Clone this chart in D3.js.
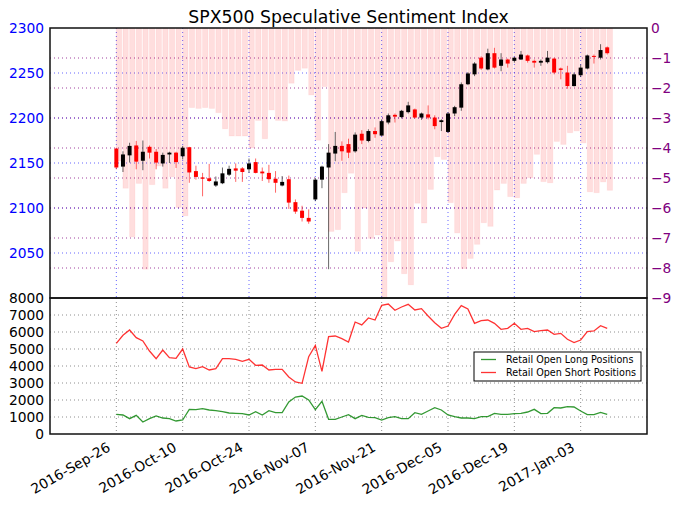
<!DOCTYPE html>
<html>
<head>
<meta charset="utf-8">
<script src="https://cdn.jsdelivr.net/npm/d3@7"></script>
<style>
  body { margin: 0; background: #fff; }
  text { font-family: "DejaVu Sans", sans-serif; }
</style>
</head>
<body>
<div id="chart"></div>
<script>
// x axis: one slot per bar, a labelled tick every 10 bars
const tickIndex = [0, 10, 20, 30, 40, 50, 60, 70];
const tickLabels = ["2016-Sep-26", "2016-Oct-10", "2016-Oct-24", "2016-Nov-07",
  "2016-Nov-21", "2016-Dec-05", "2016-Dec-19", "2017-Jan-03"];

const priceTicks = [2050, 2100, 2150, 2200, 2250, 2300];
const sentTicks = [0, -1, -2, -3, -4, -5, -6, -7, -8, -9];
const posTicks = [0, 1000, 2000, 3000, 4000, 5000, 6000, 7000, 8000];

// SPX500 daily candles
const opens = [2166, 2146, 2158.5, 2169.5, 2152.5, 2168, 2162.5, 2149.5, 2159.5, 2161.5,
  2157.5, 2167.5, 2141, 2134, 2133, 2125, 2127.5, 2137, 2144, 2144,
  2143, 2151, 2140.5, 2139, 2132.5, 2125, 2132, 2106.5, 2097, 2089,
  2109.5, 2131.5, 2145, 2160.5, 2169, 2171, 2163, 2182.5, 2174.5, 2185.5,
  2180.5, 2195, 2203.5, 2201, 2206.5, 2209.5, 2200.5, 2204, 2200.5, 2195.5,
  2184.5, 2205, 2211.5, 2237.5, 2248.5, 2267, 2254, 2272, 2258, 2265,
  2263.5, 2265, 2269.5, 2263.5, 2261.5, 2262, 2266, 2255, 2250.5, 2235.5,
  2247.5, 2255, 2269, 2267, 2278.5];
const highs = [2167, 2163, 2172.5, 2174.5, 2175, 2169.5, 2165.5, 2161.5, 2162.5, 2162.5,
  2169, 2168, 2147, 2139, 2149, 2135, 2145, 2147, 2149.5, 2145.5,
  2155, 2155, 2145, 2148, 2141, 2135.5, 2136, 2109.5, 2102.5, 2098.5,
  2133.5, 2147, 2171, 2184.5, 2174, 2177, 2184, 2186.5, 2187.5, 2189.5,
  2198.5, 2205, 2205, 2209, 2218, 2210.5, 2206, 2214, 2203, 2198.5,
  2206.5, 2213.5, 2239.5, 2251, 2262, 2268.5, 2277, 2278, 2272, 2266,
  2268, 2274.5, 2270.5, 2265, 2265, 2274.5, 2267, 2256, 2258, 2250.5,
  2259.5, 2270.5, 2270.5, 2282, 2279.5];
const lows = [2143, 2140, 2150.5, 2143, 2142, 2155, 2143, 2146, 2150, 2144.5,
  2154, 2128, 2131.5, 2113, 2129, 2123.5, 2126.5, 2135.5, 2129, 2129,
  2139, 2138.5, 2130, 2128, 2117, 2124, 2099, 2093.5, 2085, 2082.5,
  2107.5, 2122, 2032, 2152, 2152.5, 2155.5, 2161.5, 2171, 2173, 2178,
  2180, 2193, 2195, 2199.5, 2205, 2199.5, 2198, 2198.5, 2187.5, 2185.5,
  2183.5, 2202, 2208, 2236.5, 2246.5, 2253.5, 2253, 2255, 2252, 2256,
  2261.5, 2264.5, 2261.5, 2256, 2258, 2260.5, 2248.5, 2243, 2232.5, 2235,
  2245.5, 2254, 2260.5, 2265, 2270.5];
const closes = [2145, 2159.5, 2169, 2151.5, 2162.5, 2161.5, 2150.5, 2159, 2161.5, 2151,
  2167, 2139.5, 2134.5, 2132.5, 2130, 2129.5, 2138.5, 2143.5, 2141.5, 2140,
  2149.5, 2139, 2138.5, 2132, 2128, 2129, 2106, 2096, 2089, 2085,
  2131.5, 2146, 2161.5, 2169, 2163, 2161.5, 2181.5, 2175, 2185.5, 2182,
  2196.5, 2203, 2201.5, 2208, 2214, 2200.5, 2205, 2200.5, 2191, 2197.5,
  2205, 2212, 2237.5, 2249.5, 2260.5, 2255, 2272, 2256, 2265, 2260.5,
  2267, 2270.5, 2263.5, 2261.5, 2263.5, 2267, 2250.5, 2253.5, 2235.5, 2248.5,
  2256, 2269.5, 2268, 2275.5, 2272];

// speculative sentiment index (right axis)
const sentiment = [-4.43, -5.34, -6.96, -5.18, -8.04, -5.22, -4.6, -5.34, -4.96, -5.98,
  -6.26, -2.65, -2.68, -2.65, -2.68, -2.82, -3.36, -3.6, -3.6, -3.6,
  -3.99, -3.08, -3.69, -2.73, -3.08, -3.1, -1.84, -1.41, -1.34, -2.23,
  -3.74, -1.95, -6.78, -6.72, -5.49, -4.84, -7.44, -6.0, -7.01, -6.9,
  -9.2, -7.79, -7.1, -8.19, -8.56, -5.84, -6.5, -5.38, -4.29, -4.38,
  -5.82, -6.83, -8.02, -7.68, -7.21, -6.49, -6.61, -5.4, -5.18, -5.62,
  -5.66, -5.18, -4.99, -4.21, -5.12, -5.16, -3.78, -3.88, -3.49, -3.43,
  -3.83, -5.46, -5.49, -5.13, -5.41];

const longPos = [1157, 1118, 902, 1098, 706, 902, 1059, 941, 902, 765,
  824, 1451, 1431, 1490, 1412, 1373, 1314, 1235, 1216, 1196,
  1118, 1314, 1118, 1373, 1255, 1255, 1882, 2176, 2235, 2000,
  1431, 1922, 863, 863, 1000, 1137, 902, 1098, 980, 961,
  824, 961, 1020, 902, 902, 1255, 1157, 1353, 1549, 1412,
  1118, 1020, 941, 941, 902, 1020, 1020, 1216, 1157, 1157,
  1196, 1216, 1294, 1451, 1196, 1216, 1549, 1529, 1608, 1588,
  1353, 1137, 1137, 1275, 1157];
const shortPos = [5333, 5804, 6118, 5667, 5471, 4882, 4431, 4941, 4490, 4451,
  5000, 3941, 3843, 3961, 3765, 3843, 4431, 4431, 4392, 4275,
  4392, 4039, 4059, 3765, 3804, 3804, 3353, 3059, 2980, 4549,
  5216, 3686, 5725, 5765, 5608, 5412, 6588, 6420, 6824, 6706,
  7569, 7647, 7275, 7471, 7627, 7294, 7373, 6941, 6549, 6216,
  6353, 7039, 7549, 7353, 6510, 6667, 6706, 6510, 6157, 6216,
  6510, 6157, 6216, 6020, 6078, 6118, 5863, 5922, 5569, 5373,
  5529, 6020, 6059, 6373, 6216];

const width = 680, height = 508;
const left = 50, right = 647;
const topY = 28, midY = 298, botY = 434;
const fontSize = 13.8;

const svg = d3.select("#chart").append("svg")
  .attr("width", width)
  .attr("height", height)
  .style("background", "#fff");

const x = d3.scaleLinear().domain([-10, 80]).range([left, right]);
const yPrice = d3.scaleLinear().domain([2000, 2300]).range([midY, topY]);
const ySent = d3.scaleLinear().domain([-9, 0]).range([midY, topY]);
const yPos = d3.scaleLinear().domain([0, 8000]).range([botY, midY]);

svg.append("defs").append("clipPath").attr("id", "topclip")
  .append("rect").attr("x", left).attr("y", topY)
  .attr("width", right - left).attr("height", midY - topY);

// ---- top panel grid
const gridTop = svg.append("g");
gridTop.selectAll("line.v").data(tickIndex).enter().append("line")
  .attr("x1", d => x(d)).attr("x2", d => x(d))
  .attr("y1", topY).attr("y2", midY)
  .attr("stroke", "#0000ff").attr("stroke-opacity", 0.6)
  .attr("stroke-dasharray", "1,3");
gridTop.selectAll("line.hp").data(priceTicks.slice(0, -1)).enter().append("line")
  .attr("x1", left).attr("x2", right)
  .attr("y1", d => yPrice(d)).attr("y2", d => yPrice(d))
  .attr("stroke", "#0000ff").attr("stroke-opacity", 0.6)
  .attr("stroke-dasharray", "1,3");
gridTop.selectAll("line.hs").data(sentTicks.slice(1, -1)).enter().append("line")
  .attr("x1", left).attr("x2", right)
  .attr("y1", d => ySent(d)).attr("y2", d => ySent(d))
  .attr("stroke", "#800080").attr("stroke-opacity", 0.75)
  .attr("stroke-dasharray", "1,3");

// ---- sentiment bars hanging from 0
const bw = 0.8;
svg.append("g").attr("clip-path", "url(#topclip)")
  .selectAll("rect").data(sentiment).enter().append("rect")
  .attr("x", (d, i) => x(i))
  .attr("width", x(bw) - x(0))
  .attr("y", ySent(0))
  .attr("height", d => ySent(d) - ySent(0))
  .attr("fill", "#ff0000").attr("fill-opacity", 0.13)
  .attr("stroke", "#ff0000").attr("stroke-opacity", 0.05);

// ---- candles
const candles = opens.map((o, i) => ({ i, o, h: highs[i], l: lows[i], c: closes[i] }));
const cw = 0.6;
const cg = svg.append("g").attr("clip-path", "url(#topclip)")
  .selectAll("g").data(candles).enter().append("g");
cg.append("line")
  .attr("x1", d => x(d.i)).attr("x2", d => x(d.i))
  .attr("y1", d => yPrice(d.h)).attr("y2", d => yPrice(d.l))
  .attr("stroke", d => d.c >= d.o ? "#000" : "#ff0000")
  .attr("stroke-opacity", 0.6)
  .attr("stroke-width", 1);
cg.append("rect")
  .attr("x", d => x(d.i - cw / 2))
  .attr("width", x(cw) - x(0))
  .attr("y", d => yPrice(Math.max(d.o, d.c)))
  .attr("height", d => Math.max(1, Math.abs(yPrice(d.o) - yPrice(d.c))))
  .attr("fill", d => d.c >= d.o ? "#000" : "#ff0000");

// ---- bottom panel grid
const gridBot = svg.append("g");
gridBot.selectAll("line.v").data(tickIndex).enter().append("line")
  .attr("x1", d => x(d)).attr("x2", d => x(d))
  .attr("y1", midY).attr("y2", botY)
  .attr("stroke", "#444").attr("stroke-opacity", 0.6)
  .attr("stroke-dasharray", "1,3");
gridBot.selectAll("line.h").data(posTicks.slice(1, -1)).enter().append("line")
  .attr("x1", left).attr("x2", right)
  .attr("y1", d => yPos(d)).attr("y2", d => yPos(d))
  .attr("stroke", "#444").attr("stroke-opacity", 0.6)
  .attr("stroke-dasharray", "1,3");

const line = d3.line().x((d, i) => x(i)).y(d => yPos(d));
svg.append("path").datum(longPos).attr("d", line)
  .attr("fill", "none").attr("stroke", "#008000").attr("stroke-opacity", 0.8)
  .attr("stroke-width", 1.3);
svg.append("path").datum(shortPos).attr("d", line)
  .attr("fill", "none").attr("stroke", "#ff0000").attr("stroke-opacity", 0.8)
  .attr("stroke-width", 1.3);

// ---- frames
[[topY, midY], [midY, botY]].forEach(([a, b]) => {
  svg.append("rect").attr("x", left).attr("y", a)
    .attr("width", right - left).attr("height", b - a)
    .attr("fill", "none").attr("stroke", "#111").attr("stroke-width", 1.5);
});

// ---- axes
function styleAxis(g, color) {
  g.select(".domain").remove();
  g.selectAll("line").remove();
  g.selectAll("text").attr("font-family", "DejaVu Sans")
    .attr("font-size", fontSize).attr("fill", color);
}

svg.append("g").attr("transform", `translate(${left},0)`)
  .call(d3.axisLeft(yPrice).tickValues(priceTicks).tickSize(0).tickPadding(6)
    .tickFormat(d3.format("d")))
  .call(g => styleAxis(g, "#0000ff"));

svg.append("g").attr("transform", `translate(${right},0)`)
  .call(d3.axisRight(ySent).tickValues(sentTicks).tickSize(0).tickPadding(4)
    .tickFormat(d => d === 0 ? "0" : "\u2212" + Math.abs(d)))
  .call(g => styleAxis(g, "#800080"));

svg.append("g").attr("transform", `translate(${left},0)`)
  .call(d3.axisLeft(yPos).tickValues(posTicks).tickSize(0).tickPadding(6)
    .tickFormat(d3.format("d")))
  .call(g => styleAxis(g, "#000"));

svg.append("g").selectAll("text").data(tickIndex).enter().append("text")
  .attr("transform", d => `translate(${x(d) - 5},450) rotate(-30)`)
  .attr("text-anchor", "end")
  .attr("font-size", fontSize)
  .text((d, i) => tickLabels[i]);

// ---- title
svg.append("text")
  .attr("x", (left + right) / 2).attr("y", 22.5)
  .attr("text-anchor", "middle")
  .attr("font-size", 17.3)
  .text("SPX500 Speculative Sentiment Index");

// ---- legend
const lg = svg.append("g");
lg.append("rect").attr("x", 474).attr("y", 352).attr("width", 167).attr("height", 29)
  .attr("fill", "#fff").attr("stroke", "#000").attr("stroke-width", 1);
[["Retail Open Long Positions", "#008000"], ["Retail Open Short Positions", "#ff0000"]]
  .forEach(([label, color], k) => {
    const yy = 359.5 + k * 13;
    lg.append("line").attr("x1", 481).attr("x2", 496).attr("y1", yy).attr("y2", yy)
      .attr("stroke", color).attr("stroke-opacity", 0.8).attr("stroke-width", 1.3);
    lg.append("text").attr("x", 506).attr("y", yy + 3.5)
      .attr("font-size", 9.6).text(label);
  });
</script>
</body>
</html>
